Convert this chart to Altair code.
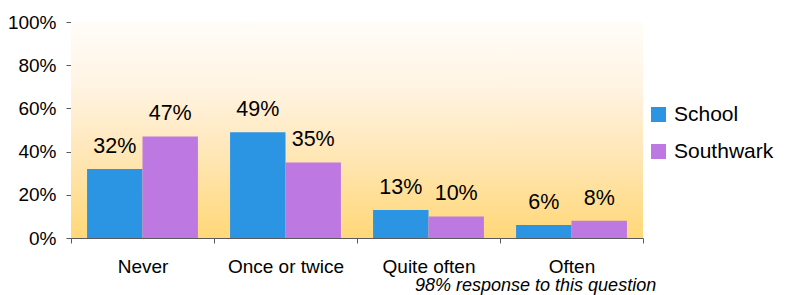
import altair as alt
import pandas as pd

categories = ["Never", "Once or twice", "Quite often", "Often"]
series = ["School", "Southwark"]
school = [0.32, 0.49, 0.13, 0.06]
southwark = [0.47, 0.35, 0.10, 0.08]
tick_values = [0, 0.2, 0.4, 0.6, 0.8, 1.0]
colors = ["#2B94E3", "#BD78E2"]
note = "98% response to this question"

rows = []
for i, c in enumerate(categories):
    rows.append({"category": c, "series": "School", "value": school[i]})
    rows.append({"category": c, "series": "Southwark", "value": southwark[i]})
df = pd.DataFrame(rows)

W, H = 572, 216
FONT = "Liberation Sans"
AXIS_COLOR = "#5a5a5a"

gradient = alt.Gradient(
    gradient="linear",
    stops=[alt.GradientStop(color="#FFFDF9", offset=0),
           alt.GradientStop(color="#FFF4E2", offset=0.3),
           alt.GradientStop(color="#FFE9C0", offset=0.55),
           alt.GradientStop(color="#FFD878", offset=1)],
    x1=0, x2=0, y1=0, y2=1,
)

bg = alt.Chart(pd.DataFrame({"a": [0]})).mark_rect(fill=gradient).encode(
    x=alt.value(0), x2=alt.value(W), y=alt.value(0), y2=alt.value(H)
)

x_enc = alt.X(
    "category:N", sort=categories,
    scale=alt.Scale(paddingInner=0, paddingOuter=0),
    axis=alt.Axis(title=None, labelAngle=0, tickBand="extent", tickSize=5,
                  labelPadding=14, labelFontSize=19, labelFont=FONT,
                  labelColor="black", domainColor=AXIS_COLOR, tickColor=AXIS_COLOR,
                  grid=False),
)
xo_enc = alt.XOffset("series:N", sort=series,
                     scale=alt.Scale(paddingOuter=0.29, paddingInner=0))
y_enc = alt.Y(
    "value:Q", scale=alt.Scale(domain=[0, 1]),
    axis=alt.Axis(title=None, values=tick_values, format=".0%", tickSize=5,
                  labelPadding=10, labelFontSize=19, labelFont=FONT,
                  labelColor="black", domainColor=AXIS_COLOR, tickColor=AXIS_COLOR,
                  grid=False),
)

bars = alt.Chart(df).mark_bar().encode(
    x=x_enc, xOffset=xo_enc, y=y_enc,
    color=alt.Color(
        "series:N", sort=series,
        scale=alt.Scale(domain=series, range=colors),
        legend=alt.Legend(title=None, orient="none", legendX=577, legendY=82,
                          symbolType="square", symbolSize=225, labelFontSize=21,
                          labelFont=FONT, labelColor="black", rowPadding=15,
                          labelOffset=5, symbolStrokeWidth=0, padding=0,
                          symbolOpacity=1),
    ),
)

labels = alt.Chart(df).mark_text(
    dy=-16, baseline="alphabetic", fontSize=21.5, font=FONT, color="black"
).encode(
    x=x_enc, xOffset=xo_enc, y=y_enc,
    text=alt.Text("value:Q", format=".0%"),
)

note_layer = alt.Chart(pd.DataFrame({"note": [note]})).mark_text(
    align="left", baseline="alphabetic", fontStyle="italic", fontSize=18,
    font=FONT, color="black"
).encode(x=alt.value(344), y=alt.value(H + 53), text="note:N")

chart = alt.layer(bg, bars, labels, note_layer).properties(
    width=W, height=H,
    autosize=alt.AutoSizeParams(type="none"),
    padding={"left": 63, "top": 14, "right": 134, "bottom": 57},
).configure_view(strokeWidth=0)

chart.save("out.html", embed_options={"renderer": "svg", "actions": False})
